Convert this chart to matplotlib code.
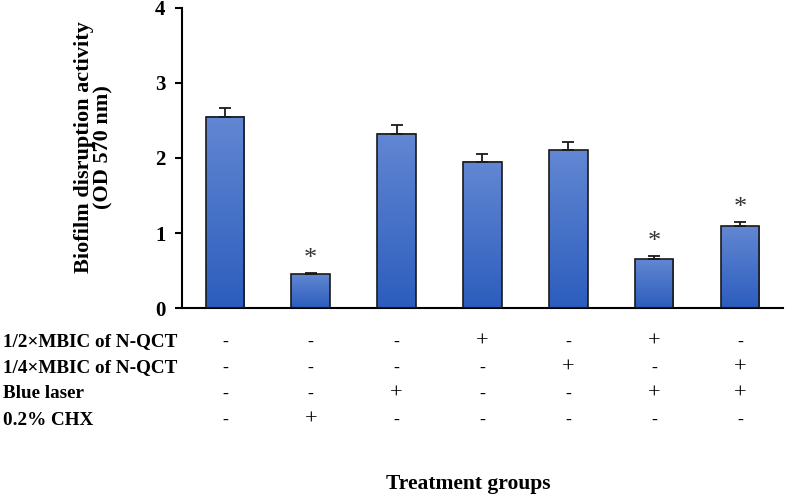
import numpy as np
import matplotlib.pyplot as plt
from matplotlib.colors import LinearSegmentedColormap
from matplotlib import transforms

plt.rcParams['font.family'] = ['Liberation Serif', 'DejaVu Serif']

# Data
values = [2.55, 0.45, 2.32, 1.95, 2.10, 0.65, 1.09]
errors = [0.12, 0.02, 0.12, 0.10, 0.11, 0.04, 0.06]
significant = [False, True, False, False, False, True, True]

row_labels = ["1/2\u00d7MBIC of N-QCT", "1/4\u00d7MBIC of N-QCT", "Blue laser", "0.2% CHX"]
half_mbic = ["-", "-", "-", "+", "-", "+", "-"]
quarter_mbic = ["-", "-", "-", "-", "+", "-", "+"]
blue_laser = ["-", "-", "+", "-", "-", "+", "+"]
chx = ["-", "+", "-", "-", "-", "-", "-"]
rows = [half_mbic, quarter_mbic, blue_laser, chx]

fig = plt.figure(figsize=(7.86, 4.98), dpi=100)
ax = fig.add_axes([0.2316, 0.3815, 0.7644, 0.6025])

x = np.arange(len(values))
width = 0.45

# gradient bars
cmap = LinearSegmentedColormap.from_list("blues", ["#2c5dbd", "#6287d3"])
grad = np.linspace(0, 1, 256).reshape(-1, 1)
bars = ax.bar(x, values, width, color="none", edgecolor="#1a1a1a", linewidth=1.2, zorder=3)
for b in bars:
    ax.imshow(grad, cmap=cmap, origin="lower", aspect="auto",
              extent=[b.get_x(), b.get_x() + b.get_width(), 0, b.get_height()], zorder=2)

ax.errorbar(x, values, yerr=[np.zeros(len(errors)), errors], fmt="none",
            ecolor="#1a1a1a", elinewidth=1.3, capsize=4, capthick=1.3, zorder=4)

for xi, v, e, s in zip(x, values, errors, significant):
    if s:
        ax.text(xi, v + e + 0.04, "*", ha="center", va="bottom", fontsize=19, color="#333333")

ax.set_xlim(-0.5, 6.5)
ax.set_ylim(0, 4)
ax.set_yticks([0, 1, 2, 3, 4])
ax.set_xticks([])
ax.spines["top"].set_visible(False)
ax.spines["right"].set_visible(False)
ax.spines["left"].set_linewidth(1.5)
ax.spines["bottom"].set_linewidth(1.5)
ax.tick_params(axis="y", direction="out", length=5, width=1.5, labelsize=15, pad=7)
for lab in ax.get_yticklabels():
    lab.set_fontweight("bold")

fig.text(0.119, 0.705, "Biofilm disruption activity\n(OD 570 nm)", rotation=90,
         ha="center", va="center", fontsize=16, fontweight="bold", linespacing=1.0)

# treatment table below the axis
trans = transforms.blended_transform_factory(ax.transData, fig.transFigure)
row_y = [1 - 342 / 498, 1 - 368 / 498, 1 - 394 / 498, 1 - 420 / 498]
for label, signs, ry in zip(row_labels, rows, row_y):
    fig.text(0.004, ry, label, ha="left", va="center", fontsize=13.8, fontweight="bold")
    for xi, sgn in zip(x, signs):
        ax.text(xi, ry, sgn, transform=trans, ha="center", va="center",
                fontsize=16 if sgn == "+" else 13, clip_on=False)

fig.text(468 / 786, 1 - 484 / 498, "Treatment groups", ha="center", va="center",
         fontsize=15.5, fontweight="bold")

fig.savefig("out.png", dpi=100)
